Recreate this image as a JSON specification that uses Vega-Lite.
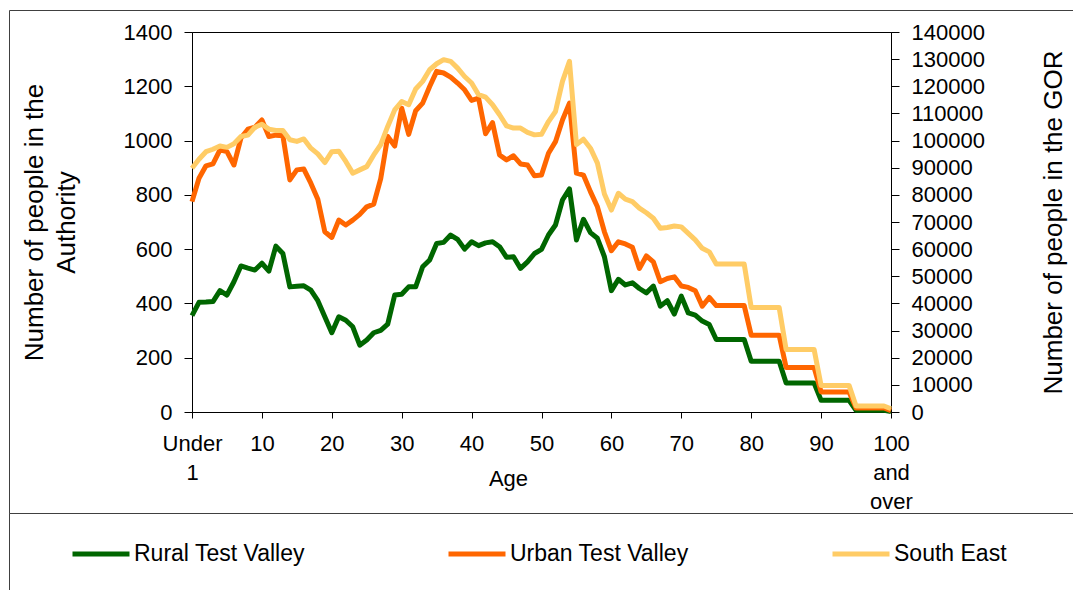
{
  "$schema": "https://vega.github.io/schema/vega-lite/v6.json",
  "width": 699,
  "height": 380,
  "autosize": {"type": "none"},
  "padding": {"left": 192, "top": 32, "right": 182, "bottom": 178},
  "background": "white",
  "config": {
    "font": "Liberation Sans",
    "view": {"stroke": "#000", "strokeWidth": 1},
    "axis": {"grid": false, "domainColor": "#000", "tickColor": "#000", "labelColor": "#000", "titleColor": "#000", "titleFontWeight": "normal", "labelFlush": false, "labelOverlap": false, "labelBound": false}
  },
  "data": {
    "values": [
      {"age":0,"rural":355,"urban":775,"southeast":89800},
      {"age":1,"rural":404,"urban":861,"southeast":93100},
      {"age":2,"rural":405,"urban":907,"southeast":95900},
      {"age":3,"rural":407,"urban":914,"southeast":96800},
      {"age":4,"rural":447,"urban":966,"southeast":98000},
      {"age":5,"rural":431,"urban":959,"southeast":97500},
      {"age":6,"rural":480,"urban":910,"southeast":98800},
      {"age":7,"rural":538,"urban":1009,"southeast":101500},
      {"age":8,"rural":530,"urban":1042,"southeast":102000},
      {"age":9,"rural":523,"urban":1049,"southeast":104900},
      {"age":10,"rural":548,"urban":1076,"southeast":106000},
      {"age":11,"rural":519,"urban":1015,"southeast":104200},
      {"age":12,"rural":611,"urban":1020,"southeast":103700},
      {"age":13,"rural":584,"urban":1018,"southeast":103700},
      {"age":14,"rural":461,"urban":855,"southeast":100300},
      {"age":15,"rural":463,"urban":892,"southeast":99700},
      {"age":16,"rural":465,"urban":895,"southeast":100600},
      {"age":17,"rural":449,"urban":843,"southeast":97200},
      {"age":18,"rural":410,"urban":784,"southeast":95100},
      {"age":19,"rural":351,"urban":664,"southeast":91900},
      {"age":20,"rural":292,"urban":643,"southeast":95900},
      {"age":21,"rural":351,"urban":707,"southeast":96100},
      {"age":22,"rural":338,"urban":689,"southeast":92300},
      {"age":23,"rural":314,"urban":707,"southeast":88000},
      {"age":24,"rural":246,"urban":728,"southeast":89200},
      {"age":25,"rural":265,"urban":756,"southeast":90400},
      {"age":26,"rural":292,"urban":766,"southeast":94700},
      {"age":27,"rural":301,"urban":860,"southeast":98500},
      {"age":28,"rural":324,"urban":1015,"southeast":105200},
      {"age":29,"rural":431,"urban":980,"southeast":111300},
      {"age":30,"rural":434,"urban":1119,"southeast":114400},
      {"age":31,"rural":461,"urban":1023,"southeast":113200},
      {"age":32,"rural":461,"urban":1110,"southeast":119000},
      {"age":33,"rural":535,"urban":1138,"southeast":121800},
      {"age":34,"rural":560,"urban":1199,"southeast":126100},
      {"age":35,"rural":621,"urban":1255,"southeast":128300},
      {"age":36,"rural":625,"urban":1249,"southeast":129800},
      {"age":37,"rural":652,"urban":1234,"southeast":129200},
      {"age":38,"rural":636,"urban":1212,"southeast":126700},
      {"age":39,"rural":600,"urban":1187,"southeast":123600},
      {"age":40,"rural":627,"urban":1148,"southeast":121200},
      {"age":41,"rural":613,"urban":1156,"southeast":116900},
      {"age":42,"rural":623,"urban":1025,"southeast":116000},
      {"age":43,"rural":627,"urban":1066,"southeast":113200},
      {"age":44,"rural":609,"urban":947,"southeast":109500},
      {"age":45,"rural":570,"urban":929,"southeast":105400},
      {"age":46,"rural":572,"urban":944,"southeast":104600},
      {"age":47,"rural":529,"urban":914,"southeast":104600},
      {"age":48,"rural":553,"urban":910,"southeast":103000},
      {"age":49,"rural":584,"urban":870,"southeast":102100},
      {"age":50,"rural":599,"urban":873,"southeast":102300},
      {"age":51,"rural":652,"urban":953,"southeast":107000},
      {"age":52,"rural":689,"urban":996,"southeast":110700},
      {"age":53,"rural":781,"urban":1076,"southeast":121800},
      {"age":54,"rural":822,"urban":1138,"southeast":129200},
      {"age":55,"rural":634,"urban":880,"southeast":98500},
      {"age":56,"rural":710,"urban":873,"southeast":100500},
      {"age":57,"rural":661,"urban":812,"southeast":97200},
      {"age":58,"rural":640,"urban":756,"southeast":91700},
      {"age":59,"rural":572,"urban":664,"southeast":80300},
      {"age":60,"rural":447,"urban":594,"southeast":74400},
      {"age":61,"rural":489,"urban":627,"southeast":80600},
      {"age":62,"rural":468,"urban":619,"southeast":78400},
      {"age":63,"rural":476,"urban":607,"southeast":77500},
      {"age":64,"rural":455,"urban":529,"southeast":75100},
      {"age":65,"rural":439,"urban":575,"southeast":73400},
      {"age":66,"rural":464,"urban":553,"southeast":71400},
      {"age":67,"rural":390,"urban":480,"southeast":67700},
      {"age":68,"rural":410,"urban":492,"southeast":68000},
      {"age":69,"rural":361,"urban":498,"southeast":68500},
      {"age":70,"rural":427,"urban":464,"southeast":68200},
      {"age":71,"rural":365,"urban":459,"southeast":65800},
      {"age":72,"rural":357,"urban":447,"southeast":63400},
      {"age":73,"rural":335,"urban":390,"southeast":60300},
      {"age":74,"rural":322,"urban":422,"southeast":59000},
      {"age":75,"rural":267,"urban":392,"southeast":54500},
      {"age":76,"rural":267,"urban":392,"southeast":54500},
      {"age":77,"rural":267,"urban":392,"southeast":54500},
      {"age":78,"rural":267,"urban":392,"southeast":54500},
      {"age":79,"rural":267,"urban":392,"southeast":54500},
      {"age":80,"rural":187,"urban":283,"southeast":38500},
      {"age":81,"rural":187,"urban":283,"southeast":38500},
      {"age":82,"rural":187,"urban":283,"southeast":38500},
      {"age":83,"rural":187,"urban":283,"southeast":38500},
      {"age":84,"rural":187,"urban":283,"southeast":38500},
      {"age":85,"rural":107,"urban":164,"southeast":23000},
      {"age":86,"rural":107,"urban":164,"southeast":23000},
      {"age":87,"rural":107,"urban":164,"southeast":23000},
      {"age":88,"rural":107,"urban":164,"southeast":23000},
      {"age":89,"rural":107,"urban":164,"southeast":23000},
      {"age":90,"rural":43,"urban":74,"southeast":9800},
      {"age":91,"rural":43,"urban":74,"southeast":9800},
      {"age":92,"rural":43,"urban":74,"southeast":9800},
      {"age":93,"rural":43,"urban":74,"southeast":9800},
      {"age":94,"rural":43,"urban":74,"southeast":9800},
      {"age":95,"rural":6,"urban":15,"southeast":2200},
      {"age":96,"rural":6,"urban":15,"southeast":2200},
      {"age":97,"rural":6,"urban":15,"southeast":2200},
      {"age":98,"rural":6,"urban":15,"southeast":2200},
      {"age":99,"rural":6,"urban":15,"southeast":2200},
      {"age":100,"rural":2,"urban":5,"southeast":1200}
    ]
  },
  "encoding": {
    "x": {
      "field": "age",
      "type": "quantitative",
      "scale": {"domain": [0, 100], "nice": false, "zero": false},
      "axis": {
        "values": [0, 10, 20, 30, 40, 50, 60, 70, 80, 90, 100],
        "title": "Age",
        "titleFontSize": 22,
        "titleX": 316,
        "titleY": 66,
        "titleBaseline": "middle",
        "titleAlign": "center",
        "labelFontSize": 22,
        "labelLineHeight": 29,
        "labelBaseline": "top",
        "labelPadding": 15,
        "tickSize": 6,
        "labelExpr": "datum.value == 0 ? ['Under', '1'] : datum.value == 100 ? ['100', 'and', 'over'] : datum.label"
      }
    }
  },
  "layer": [
    {
      "mark": {"type": "text", "text": ""},
      "encoding": {
        "fill": {
          "field": "age",
          "type": "quantitative",
          "scale": {"range": ["rgba(255,255,255,0)", "rgba(255,255,255,0)"]},
          "legend": {
            "type": "gradient",
            "orient": "none",
            "legendX": -183,
            "legendY": -22,
            "direction": "vertical",
            "gradientLength": 503,
            "gradientThickness": 1100,
            "gradientStrokeWidth": 0,
            "padding": 0,
            "title": null,
            "labelOpacity": 0,
            "labelFontSize": 1,
            "labelExpr": "''",
            "strokeColor": "#404040",
            "encode": {"gradient": {"update": {"opacity": {"value": 0}}}}
          }
        }
      }
    },
    {
      "mark": {"type": "text", "text": ""},
      "encoding": {
        "stroke": {
          "field": "age",
          "type": "quantitative",
          "scale": {"range": ["rgba(255,255,255,0)", "rgba(255,255,255,0)"]},
          "legend": {
            "type": "gradient",
            "orient": "none",
            "legendX": -183,
            "legendY": 481,
            "direction": "vertical",
            "gradientLength": 140,
            "gradientThickness": 1100,
            "gradientStrokeWidth": 0,
            "padding": 0,
            "title": null,
            "labelOpacity": 0,
            "labelFontSize": 1,
            "labelExpr": "''",
            "strokeColor": "#404040",
            "encode": {"gradient": {"update": {"opacity": {"value": 0}}}}
          }
        }
      }
    },
    {
      "layer": [
        {
          "transform": [{"fold": ["rural", "urban"], "as": ["series", "value"]}],
          "mark": {"type": "line", "strokeWidth": 5, "strokeJoin": "round"},
          "encoding": {
            "y": {
              "field": "value",
              "type": "quantitative",
              "scale": {"domain": [0, 1400], "nice": false},
              "axis": {
                "orient": "left",
                "values": [0, 200, 400, 600, 800, 1000, 1200, 1400],
                "format": "d",
                "labelFontSize": 22,
                "labelPadding": 12,
                "tickSize": 8,
                "title": ["Number of people in the", "Authority"],
                "titleFontSize": 26,
                "titleLineHeight": 32,
                "titleAngle": 270,
                "titleX": -158,
                "titleY": 190,
                "titleAlign": "center",
                "titleBaseline": "middle"
              }
            },
            "color": {
              "field": "series",
              "type": "nominal",
              "scale": {"domain": ["rural", "urban", "southeast"], "range": ["#006600", "#ff6600", "#ffcc66"]},
              "legend": {
                "orient": "none",
                "legendX": -122,
                "legendY": 491,
                "direction": "horizontal",
                "columns": 3,
                "columnPadding": 133,
                "title": null,
                "symbolType": "stroke",
                "symbolSize": 3249,
                "symbolStrokeWidth": 5,
                "labelFontSize": 23,
                "labelColor": "#000",
                "labelOffset": 2,
                "labelLimit": 400,
                "labelExpr": "datum.value == 'rural' ? 'Rural Test Valley' : datum.value == 'urban' ? 'Urban Test Valley' : 'South East'"
              }
            }
          }
        },
        {
          "transform": [{"fold": ["southeast"], "as": ["series", "value"]}],
          "mark": {"type": "line", "strokeWidth": 5, "strokeJoin": "round"},
          "encoding": {
            "y": {
              "field": "value",
              "type": "quantitative",
              "scale": {"domain": [0, 140000], "nice": false},
              "axis": {
                "orient": "right",
                "values": [0, 10000, 20000, 30000, 40000, 50000, 60000, 70000, 80000, 90000, 100000, 110000, 120000, 130000, 140000],
                "format": "d",
                "labelFontSize": 22,
                "labelPadding": 12,
                "tickSize": 8,
                "title": "Number of people in the GOR",
                "titleFontSize": 26,
                "titleAngle": 270,
                "titleX": 162,
                "titleY": 190,
                "titleAlign": "center",
                "titleBaseline": "middle"
              }
            },
            "color": {"field": "series", "type": "nominal"}
          }
        }
      ],
      "resolve": {"scale": {"y": "independent"}}
    }
  ]
}
